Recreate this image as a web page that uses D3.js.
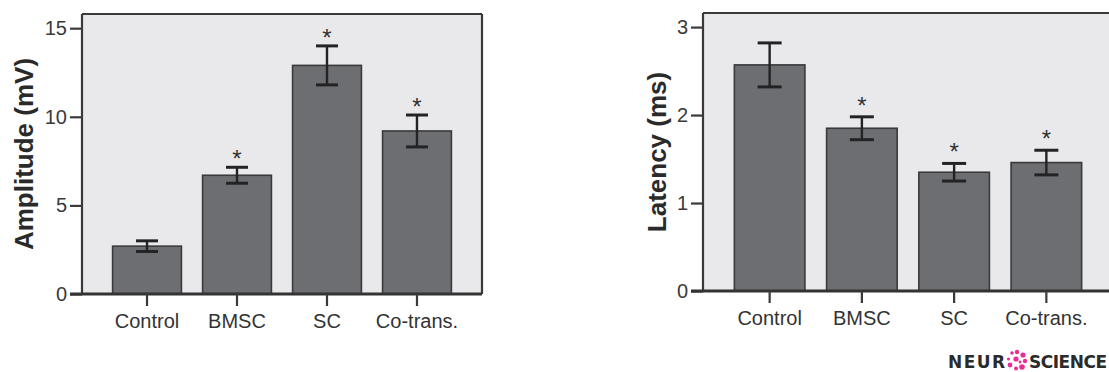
<!DOCTYPE html>
<html>
<head>
<meta charset="utf-8">
<script src="https://cdn.jsdelivr.net/npm/d3@7/dist/d3.min.js"></script>
<style>
  html, body { margin: 0; padding: 0; background: #ffffff; }
  svg { display: block; }
</style>
</head>
<body>
<svg id="chart" width="1109" height="372"></svg>
<script>
// ---- data ----
const categories = ["Control", "BMSC", "SC", "Co-trans."];

const amplitudeMeans  = [2.7, 6.7, 12.9, 9.2];
const amplitudeErrors = [0.3, 0.45, 1.1, 0.9];
const amplitudeSig    = [false, true, true, true];
const amplitudeTicks  = [0, 5, 10, 15];

const latencyMeans  = [2.57, 1.85, 1.35, 1.46];
const latencyErrors = [0.25, 0.13, 0.1, 0.14];
const latencySig    = [false, true, true, true];
const latencyTicks  = [0, 1, 2, 3];

// ---- drawing ----
const svg = d3.select("#chart");

function drawPanel(opt) {
  const g = svg.append("g");
  const x = d3.scaleBand().domain(categories)
    .range([opt.left, opt.right]).paddingInner(0.235).paddingOuter(0.34);
  const y = d3.scaleLinear().domain([0, opt.yMax]).range([opt.bottom, opt.top]);

  // plot background
  g.append("rect")
    .attr("x", opt.left).attr("y", opt.top)
    .attr("width", opt.right - opt.left).attr("height", opt.bottom - opt.top)
    .attr("fill", "#e9e9eb");

  // bars
  const data = categories.map((c, i) => ({c, m: opt.means[i], e: opt.errors[i], s: opt.sig[i]}));
  g.selectAll("rect.bar").data(data).enter().append("rect")
    .attr("class", "bar")
    .attr("x", d => x(d.c)).attr("width", x.bandwidth())
    .attr("y", d => y(d.m)).attr("height", d => y(0) - y(d.m))
    .attr("fill", "#6d6e72").attr("stroke", "#3a3a3c").attr("stroke-width", 1.6);

  // error bars
  const cap = opt.cap;
  const eb = g.selectAll("g.err").data(data).enter().append("g").attr("class", "err")
    .attr("stroke", "#232325").attr("stroke-width", 2.4);
  eb.append("line")
    .attr("x1", d => x(d.c) + x.bandwidth() / 2).attr("x2", d => x(d.c) + x.bandwidth() / 2)
    .attr("y1", d => y(d.m + d.e)).attr("y2", d => y(d.m - d.e));
  eb.append("line")
    .attr("x1", d => x(d.c) + x.bandwidth() / 2 - cap / 2).attr("x2", d => x(d.c) + x.bandwidth() / 2 + cap / 2)
    .attr("y1", d => y(d.m + d.e)).attr("y2", d => y(d.m + d.e)).attr("stroke-width", 3);
  eb.append("line")
    .attr("x1", d => x(d.c) + x.bandwidth() / 2 - cap / 2).attr("x2", d => x(d.c) + x.bandwidth() / 2 + cap / 2)
    .attr("y1", d => y(d.m - d.e)).attr("y2", d => y(d.m - d.e)).attr("stroke-width", 3);

  // significance stars
  g.selectAll("text.star").data(data.filter(d => d.s)).enter().append("text")
    .attr("class", "star")
    .attr("x", d => x(d.c) + x.bandwidth() / 2)
    .attr("y", d => y(d.m + d.e) - opt.starGap + 14)
    .attr("text-anchor", "middle")
    .attr("font-family", "Liberation Sans, Arial, sans-serif")
    .attr("font-size", 24)
    .attr("fill", "#333")
    .text("*");

  // frame (left and top, right if visible)
  const frame = g.append("g").attr("stroke", "#3a3a3a").attr("fill", "none");
  frame.append("line").attr("x1", opt.left).attr("x2", opt.left).attr("y1", opt.top).attr("y2", opt.bottom).attr("stroke-width", 2.2);
  frame.append("line").attr("x1", opt.left).attr("x2", opt.right).attr("y1", opt.top).attr("y2", opt.top).attr("stroke-width", 2.2);
  frame.append("line").attr("x1", opt.right).attr("x2", opt.right).attr("y1", opt.top).attr("y2", opt.bottom).attr("stroke-width", 2.2);

  // y axis
  const ya = g.append("g").attr("transform", `translate(${opt.left},0)`)
    .call(d3.axisLeft(y).tickValues(opt.ticks).tickFormat(d3.format("d"))
      .tickSize(12).tickSizeOuter(0).tickPadding(3));
  ya.select(".domain").remove();
  ya.selectAll(".tick line").attr("stroke", "#3a3a3a").attr("stroke-width", 2.2);
  ya.selectAll(".tick text")
    .attr("font-family", "Liberation Sans, Arial, sans-serif")
    .attr("font-size", 20).attr("fill", "#3a3a3a");

  // x axis line (bottom)
  g.append("line")
    .attr("x1", opt.left - 12).attr("x2", opt.right)
    .attr("y1", opt.bottom).attr("y2", opt.bottom)
    .attr("stroke", "#333").attr("stroke-width", 3);

  const xa = g.append("g").attr("transform", `translate(0,${opt.bottom})`)
    .call(d3.axisBottom(x).tickSize(12).tickSizeOuter(0).tickPadding(8));
  xa.select(".domain").remove();
  xa.selectAll(".tick line").attr("stroke", "#3a3a3a").attr("stroke-width", 2.2);
  xa.selectAll(".tick text")
    .attr("font-family", "Liberation Sans, Arial, sans-serif")
    .attr("font-size", 20).attr("fill", "#333");

  // y title
  g.append("text")
    .attr("transform", `translate(${opt.titleX},${(opt.top + opt.bottom) / 2}) rotate(-90)`)
    .attr("text-anchor", "middle")
    .attr("font-family", "Liberation Sans, Arial, sans-serif")
    .attr("font-weight", "bold")
    .attr("font-size", 26)
    .attr("fill", "#2a2a2a")
    .text(opt.title);
}

drawPanel({
  left: 82, right: 482, top: 14, bottom: 294, yMax: 15.8,
  means: amplitudeMeans, errors: amplitudeErrors, sig: amplitudeSig, ticks: amplitudeTicks,
  cap: 22, starGap: 14, titleX: 33, title: "Amplitude (mV)"
});

drawPanel({
  left: 703, right: 1113, top: 13, bottom: 291, yMax: 3.16,
  means: latencyMeans, errors: latencyErrors, sig: latencySig, ticks: latencyTicks,
  cap: 24, starGap: 17, titleX: 666, title: "Latency (ms)"
});

// ---- publisher logo ----
const logo = svg.append("g");
logo.append("text").attr("x", 948).attr("y", 367.5)
  .attr("font-family", "DejaVu Sans, sans-serif").attr("font-weight", "bold")
  .attr("font-size", 17).attr("fill", "#2b2b2b").attr("textLength", 57).text("NEUR");
const dots = [[0,-8,2.2],[6,-5,2.6],[8,1,2.2],[5,7,2.8],[-1,8.5,2],[-7,5,2.4],[-8.5,-1,1.6],[-5,-7,1.8],[-1,-1,2.6],[3,2,1.4]];
logo.selectAll("circle").data(dots).enter().append("circle")
  .attr("cx", d => 1017 + d[0]).attr("cy", d => 360 + d[1]).attr("r", d => d[2])
  .attr("fill", "#e8168a").attr("opacity", 0.9);
logo.append("text").attr("x", 1029).attr("y", 367.5)
  .attr("font-family", "DejaVu Sans, sans-serif").attr("font-weight", "bold")
  .attr("font-size", 17).attr("fill", "#2b2b2b").attr("textLength", 78).text("SCIENCE");
</script>
</body>
</html>
